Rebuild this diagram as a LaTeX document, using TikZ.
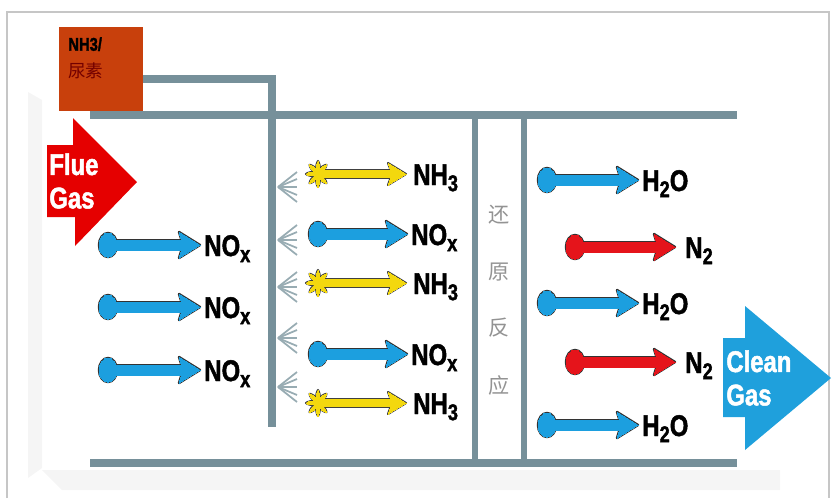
\documentclass[tikz,border=0pt]{standalone}
\usepackage{fontspec}
\setmainfont{Liberation Sans}
\newfontfamily\condfont[FakeStretch=0.8, FakeBold=1.6]{Liberation Sans}
\newfontfamily\cjk{Noto Sans CJK SC}
\usetikzlibrary{positioning}
\definecolor{ductGray}{HTML}{76909A}
\definecolor{feedRed}{HTML}{C8400C}
\definecolor{molBlue}{HTML}{1C9FDF}
\definecolor{molRed}{HTML}{E5141B}
\definecolor{molYellow}{HTML}{F3D80E}
\definecolor{cleanBlue}{HTML}{1FA0DC}
\newcommand\chemsub[1]{\raisebox{-3.5pt}{\fontsize{13}{13}\selectfont #1}}

\begin{document}
\begin{tikzpicture}[x=0.02cm, y=-0.02cm,
    duct/.style={ductGray, line width=4pt},
    gas/.style={font=\condfont\bfseries\fontsize{17}{19}\selectfont, inner sep=0pt, anchor=base west},
    react/.style={font=\cjk\fontsize{12}{12}\selectfont, text=gray!85, inner sep=0pt},
    pics/ballarrow/.style 2 args={code={
      \foreach \pass/\col/\lw in {1/black!80/1.4pt, 2/#1/0pt} {
        \path[draw=\col, fill=\col, line width=\lw, line join=round] (0,0) ellipse [x radius=9, y radius=12];
        \path[draw=\col, fill=\col, line width=\lw, line join=round] (0,-5) rectangle (#2-17,5);
        \path[draw=\col, fill=\col, line width=\lw, line join=round] (#2-21,-13) -- (#2,0) -- (#2-21,13) -- (#2-17,0) -- cycle;
      }
    }},
    pics/nharrow/.style={code={
      \foreach \pass/\col/\lw in {1/black!75/1.2pt, 2/molYellow/0pt} {
        \path[draw=\col, fill=\col, line width=\lw, line join=round]
          plot[smooth cycle, samples=32, domain=0:348.75] ({(8+4*cos(8*\x))*cos(\x)}, {(9+4*cos(8*\x))*sin(\x)});
        \path[draw=\col, fill=\col, line width=\lw] (0,-3.5) rectangle (#1-15,3.5);
        \path[draw=\col, fill=\col, line width=\lw, line join=round] (#1-18,-11) -- (#1,0) -- (#1-18,11) -- (#1-14,0) -- cycle;
      }
    }}]
  \useasboundingbox (0,0) rectangle (832,498);
  % frame and faint box walls
  \draw[gray!45, line width=1pt] (7,498) -- (7,12) -- (829,12) -- (829,498);
  \fill[gray!8] (28,92) -- (42,100) -- (42,468) -- (28,478) -- cycle;
  \fill[gray!8] (42,470) -- (780,470) -- (780,490) -- (62,490) -- cycle;

  % reagent feed
  \node[fill=feedRed, minimum width=47.6pt, minimum height=47.6pt, inner sep=0pt] (feed) at (101,69) {};
  \node[anchor=north west, inner sep=0pt, align=left, font=\condfont\bfseries\fontsize{10.5}{16}\selectfont] (feedlbl) at (68,37)
    {NH3/\\[-1pt]{\cjk\mdseries\fontsize{10}{10}\selectfont\color{red!45!black}尿素}};
  \draw[duct, line width=4.5pt] (feed.east |- 0,79) -- (272,79) -- (272,427);

  % duct
  \draw[duct] (90,115) -- (737,115);
  \draw[duct] (90,463) -- (737,463);
  \draw[duct, line width=3.4pt] (475,115) -- (475,463);
  \draw[duct, line width=3.4pt] (524,115) -- (524,463);

  % spray nozzles
  \foreach \y in {187,240,287,338,387}
    \foreach \d in {-15,-8,0,8,15}
      \draw[ductGray!75, line width=1pt] (278,\y) -- (297,\y+\d);

  % flue gas in
  \fill[red!90!black] (47,145) -- (73,145) -- (73,118) -- (137,182) -- (75,246) -- (75,217) -- (47,217) -- cycle;
  \node[gas, anchor=west, align=left, text=white] (flue) at (49,181) {Flue\\Gas};

  % clean gas out
  \fill[cleanBlue] (723,338) -- (745,338) -- (745,306) -- (831,378) -- (745,450) -- (745,417) -- (723,417) -- cycle;
  \node[gas, anchor=west, align=left, text=white] (clean) at (726,378) {Clean\\Gas};

  % NOx before injection
  \foreach \y [count=\i] in {245,307,370} {
    \pic at (108,\y) {ballarrow={molBlue}{92}};
    \node[gas] (noxin\i) at (204,\y+11) {NO\chemsub{x}};
  }
  % mixing zone
  \foreach \y [count=\i] in {174,283,403} {
    \pic at (318,\y) {nharrow=88};
    \node[gas] (nh\i) at (413,\y+11) {NH\chemsub{3}};
  }
  \foreach \y [count=\i] in {234,354} {
    \pic at (318,\y) {ballarrow={molBlue}{89}};
    \node[gas] (noxmix\i) at (411,\y+11) {NO\chemsub{x}};
  }
  % reduction
  \foreach \c/\y [count=\i] in {还/215,原/272,反/328,应/385}
    \node[react] (rx\i) at (499,\y) {\c};
  % products
  \foreach \y [count=\i] in {180,303,425} {
    \pic at (547,\y) {ballarrow={molBlue}{91}};
    \node[gas] (water\i) at (642,\y+11) {H\chemsub{2}O};
  }
  \foreach \y [count=\i] in {247,362} {
    \pic at (575,\y) {ballarrow={molRed}{100}};
    \node[gas] (nitro\i) at (685,\y+11) {N\chemsub{2}};
  }
\end{tikzpicture}
\end{document}
